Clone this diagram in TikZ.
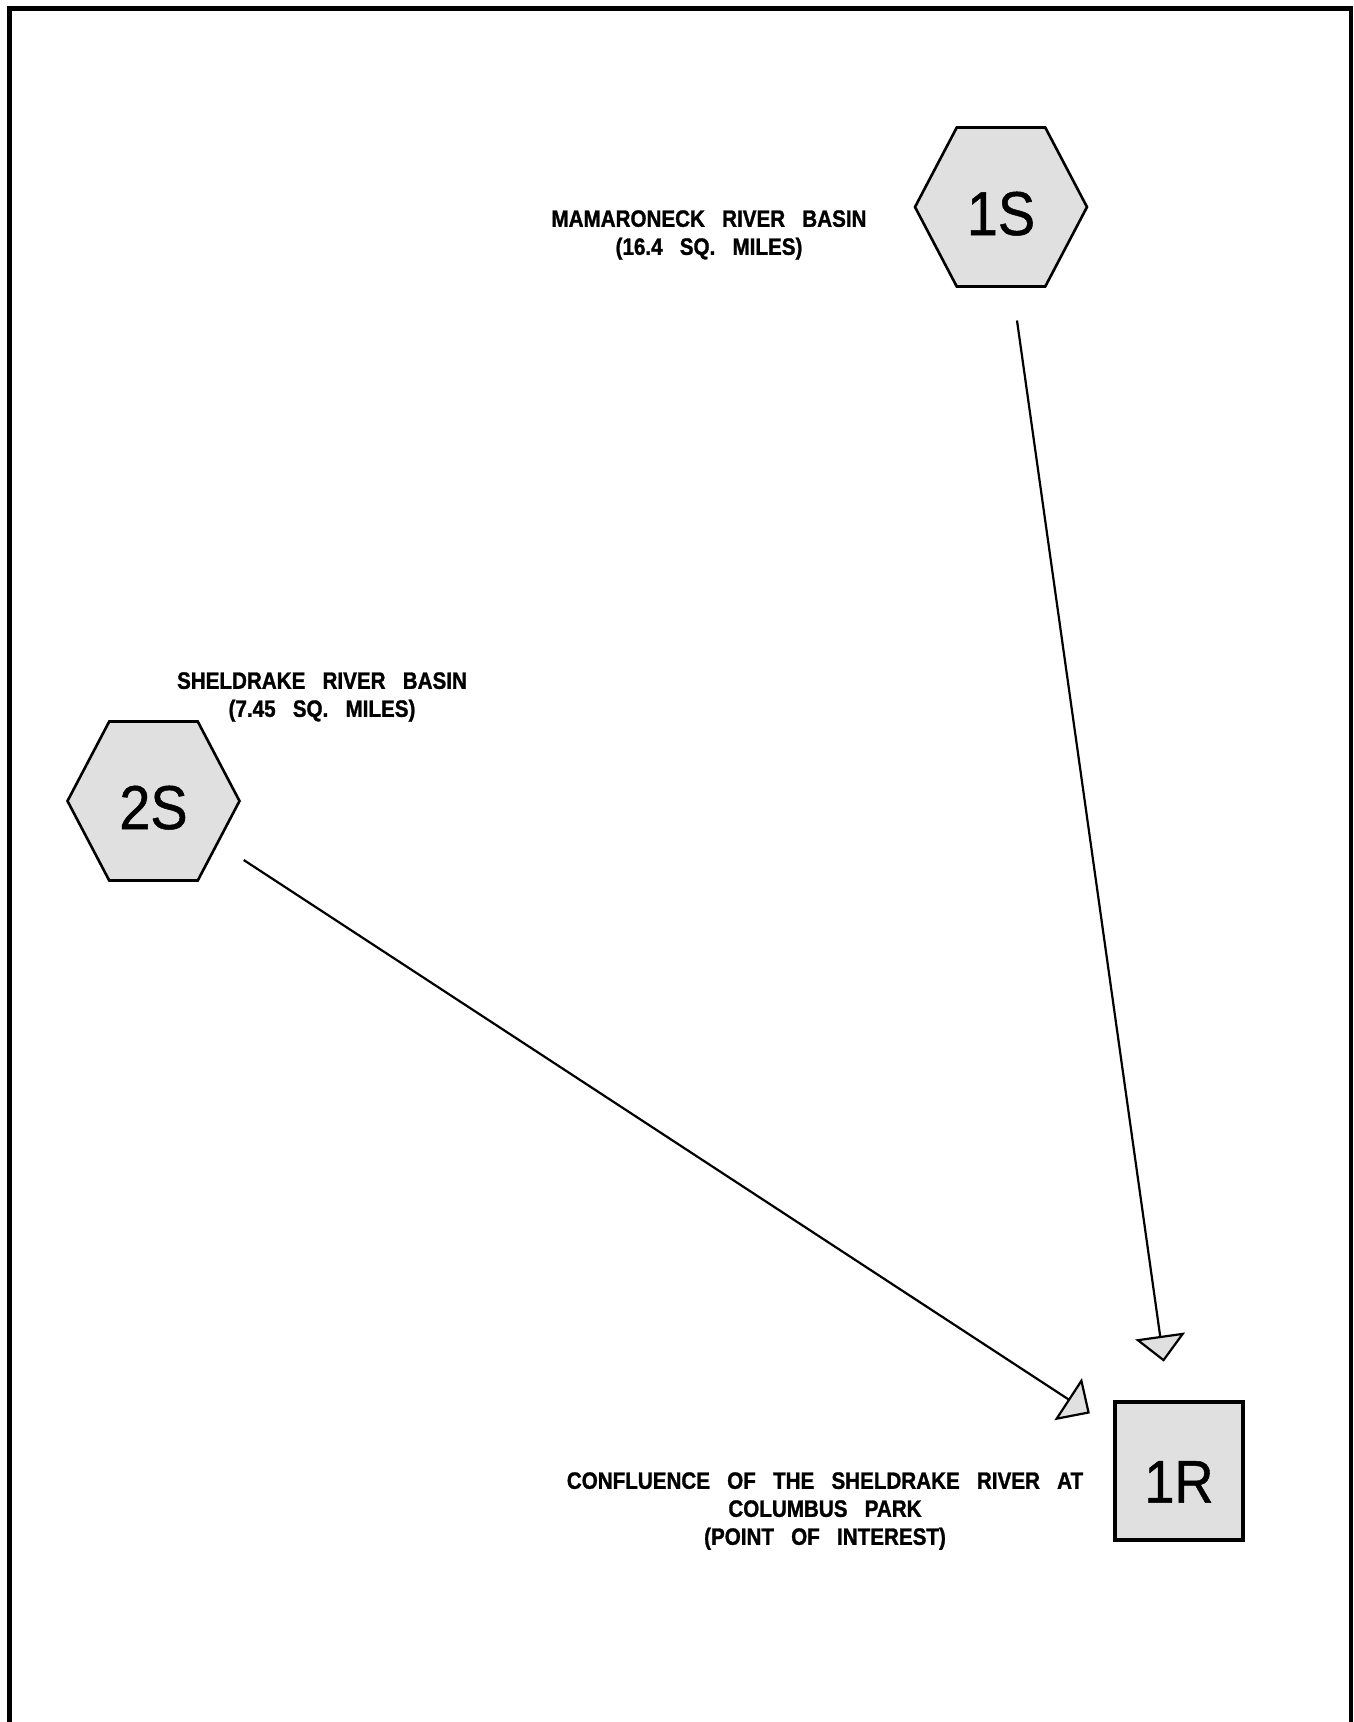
\documentclass[tikz,border=0pt]{standalone}
\usepackage{fontspec}
\setmainfont{Liberation Sans}
\newfontfamily\notefont[FakeStretch=0.87, WordSpace=3, BoldFeatures={FakeBold=1.2}]{Liberation Sans}
\newfontfamily\idfont[FakeStretch=0.9, FakeBold=0.8]{Liberation Sans}
\usetikzlibrary{arrows.meta, shapes.symbols}

\begin{document}
\begin{tikzpicture}[
    x=1pt, y=-1pt,
    basin/.style = {signal, signal to=east and west, signal pointer angle=124.6, draw, line width=2.6pt, fill=black!12, minimum width=172pt, minimum height=159pt, inner sep=0pt, text height=56pt, text depth=0pt, font=\idfont\fontsize{62}{62}\selectfont},
    reach/.style = {rectangle, draw, line width=3.4pt, fill=black!12, minimum width=128pt, minimum height=138pt, inner sep=0pt, text height=63pt, text depth=0pt, font=\idfont\fontsize{60}{60}\selectfont},
    note/.style = {align=center, inner sep=0pt, font=\notefont\bfseries\fontsize{23.7}{28}\selectfont},
    frame/.style = {line width=4.5pt},
    flow/.style = {-{Triangle[length=26pt, width=50pt, fill=black!12]}, line width=2.2pt}
]
\useasboundingbox (0,0) rectangle (1354,1722);

% Sheet border (open at the bottom)
\draw[frame] (9.5,1722) -- (9.5,8.5) -- (1351,8.5) -- (1351,1722);

% Subcatchments and reach
\node[basin] (s1) at (1001,207) {1S};
\node[basin] (s2) at (153.5,801) {2S};
\node[reach] (r1) at (1179,1471) {1R};

% Descriptions
\node[note] (s1note) at (709,235) {MAMARONECK RIVER BASIN\\(16.4 SQ. MILES)};
\node[note] (s2note) at (322,697) {SHELDRAKE RIVER BASIN\\(7.45 SQ. MILES)};
\node[note] (r1note) at (825,1511) {CONFLUENCE OF THE SHELDRAKE RIVER AT\\COLUMBUS PARK\\(POINT OF INTEREST)};

% Flow paths
\draw[flow, shorten <=33pt, shorten >=39pt] (s1) -- (r1);
\draw[flow, shorten <=30pt, shorten >=28pt] (s2) -- (r1);

\end{tikzpicture}
\end{document}
